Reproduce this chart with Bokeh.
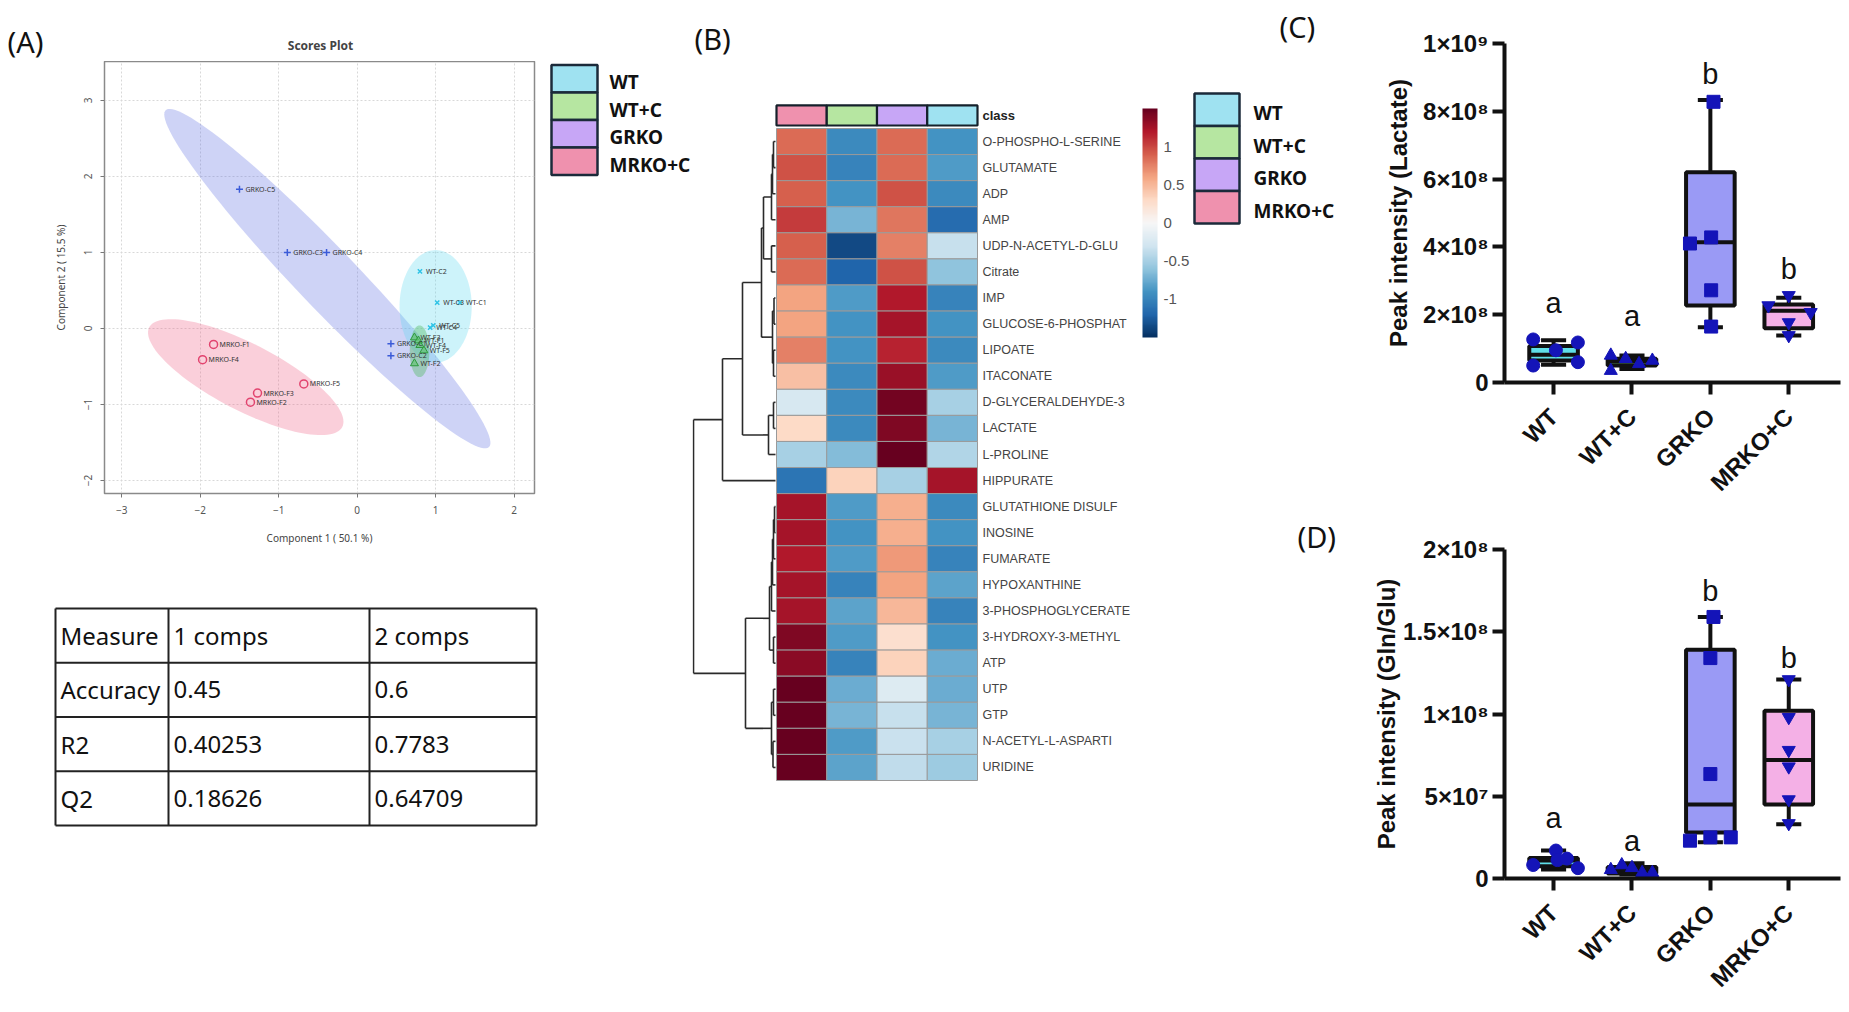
import numpy as np
from bokeh.plotting import figure
from bokeh.models import Range1d, FixedTicker, ColorBar, LinearColorMapper, ColumnDataSource
from bokeh.layouts import row, column
from bokeh.embed import file_html
from bokeh.resources import INLINE
from bokeh.core.properties import value

# ====================== DATA ======================
groups = ["WT", "WT+C", "GRKO", "MRKO+C"]
group_fill = ["#9fe2f1", "#b6e6a1", "#c7a6f6", "#ef91ae"]

# ---- (A) PLS-DA scores ----
grko_x = [-1.50, -0.89, -0.39, 0.43, 0.43]
grko_y = [1.83, 1.00, 1.00, -0.20, -0.36]
grko_lab = ["GRKO-C5", "GRKO-C3", "GRKO-C4", "GRKO-C1", "GRKO-C2"]
wt_x = [0.80, 1.02, 1.31, 0.93, 0.97]
wt_y = [0.75, 0.34, 0.34, 0.01, 0.04]
wt_lab = ["WT-C2", "WT-C3", "WT-C1", "WT-C4", "WT-C5"]
wtc_x = [0.73, 0.80, 0.85, 0.73, 0.78]
wtc_y = [-0.12, -0.22, -0.29, -0.46, -0.16]
wtc_lab = ["WT-F3", "WT-F4", "WT-F5", "WT-F2", "WT-F1"]
mrko_x = [-1.83, -1.97, -0.68, -1.27, -1.36]
mrko_y = [-0.21, -0.41, -0.73, -0.85, -0.97]
mrko_lab = ["MRKO-F1", "MRKO-F4", "MRKO-F5", "MRKO-F3", "MRKO-F2"]
# confidence ellipses: centre, semi-axis vector a, conjugate semi-axis vector b (data units)
ell_grko = [(-0.38, 0.655), (2.06, -2.215), (0.276, 0.274)]
ell_mrko = [(-1.42, -0.64), (1.23, -0.655), (0.195, 0.39)]
ell_wt = [(1.00, 0.29), (0.0, 0.74), (0.46, 0.0)]
ell_wtc = [(0.795, -0.30), (0.0, 0.34), (0.125, 0.0)]
comp1_label = "Component 1 ( 50.1 %)"
comp2_label = "Component 2 ( 15.5 %)"

# ---- table ----
table_header = ["Measure", "1 comps", "2 comps"]
table_measure = ["Accuracy", "R2", "Q2"]
table_comp1 = ["0.45", "0.40253", "0.18626"]
table_comp2 = ["0.6", "0.7783", "0.64709"]

# ---- (B) heatmap ----
hm_columns = ["MRKO+C", "WT+C", "GRKO", "WT"]
metabolites = ["O-PHOSPHO-L-SERINE", "GLUTAMATE", "ADP", "AMP", "UDP-N-ACETYL-D-GLU", "Citrate",
               "IMP", "GLUCOSE-6-PHOSPHAT", "LIPOATE", "ITACONATE", "D-GLYCERALDEHYDE-3", "LACTATE",
               "L-PROLINE", "HIPPURATE", "GLUTATHIONE DISULF", "INOSINE", "FUMARATE", "HYPOXANTHINE",
               "3-PHOSPHOGLYCERATE", "3-HYDROXY-3-METHYL", "ATP", "UTP", "GTP", "N-ACETYL-L-ASPARTI",
               "URIDINE"]
hm_values = [
    [0.85, -0.95, 0.85, -0.90],
    [0.95, -1.00, 0.85, -0.85],
    [0.90, -0.90, 0.95, -0.95],
    [1.05, -0.70, 0.80, -1.15],
    [0.90, -1.35, 0.75, -0.35],
    [0.85, -1.20, 0.95, -0.60],
    [0.60, -0.85, 1.20, -1.00],
    [0.60, -0.90, 1.25, -0.90],
    [0.75, -0.90, 1.15, -0.95],
    [0.45, -0.95, 1.30, -0.85],
    [-0.25, -0.95, 1.45, -0.50],
    [0.30, -0.95, 1.40, -0.70],
    [-0.50, -0.65, 1.55, -0.45],
    [-1.10, 0.35, -0.50, 1.25],
    [1.25, -0.85, 0.55, -0.95],
    [1.25, -0.90, 0.55, -0.90],
    [1.20, -0.85, 0.65, -1.00],
    [1.25, -1.00, 0.60, -0.80],
    [1.25, -0.80, 0.50, -1.00],
    [1.40, -0.85, 0.25, -0.90],
    [1.35, -1.00, 0.35, -0.75],
    [1.55, -0.75, -0.20, -0.75],
    [1.55, -0.70, -0.35, -0.70],
    [1.55, -0.85, -0.33, -0.50],
    [1.55, -0.80, -0.38, -0.55],
]
# hierarchical clustering of the rows: (child, child, height); leaves 0..24, merge k -> node 25+k
dendro_merges = [(0, 1, 2), (25, 2, 3), (26, 3, 4), (4, 5, 4), (27, 28, 12), (6, 7, 1.5), (8, 9, 2),
                 (30, 31, 3), (29, 32, 14), (10, 11, 2), (34, 12, 7), (33, 35, 33), (36, 13, 53),
                 (14, 15, 1), (38, 16, 2), (39, 17, 3), (40, 18, 4), (19, 20, 2), (41, 42, 6),
                 (21, 22, 2), (23, 24, 2.5), (44, 45, 4), (43, 46, 30), (37, 47, 82)]
cbar_ticks = [-1, -0.5, 0, 0.5, 1]
cbar_labels = ["-1", "-0.5", "0", "0.5", "1"]

# ---- (C) lactate ----
lac_ticks = [0, 2e8, 4e8, 6e8, 8e8, 1e9]
lac_tick_labels = ["0", "2×10⁸", "4×10⁸", "6×10⁸", "8×10⁸", "1×10⁹"]
lac_lo = [0.52e8, 0.40e8, 1.63e8, 1.39e8]
lac_q1 = [0.65e8, 0.50e8, 2.27e8, 1.60e8]
lac_med = [0.82e8, 0.62e8, 4.14e8, 2.12e8]
lac_q3 = [1.08e8, 0.70e8, 6.20e8, 2.30e8]
lac_hi = [1.25e8, 0.80e8, 8.33e8, 2.50e8]
lac_pts_dx = [[-0.26, -0.26, 0.03, 0.31, 0.31], [-0.27, -0.27, -0.08, 0.09, 0.26],
              [0.04, -0.26, 0.01, 0.01, 0.01], [0.0, -0.26, 0.28, 0.0, 0.0]]
lac_pts_y = [[1.27e8, 0.50e8, 0.95e8, 1.18e8, 0.60e8], [0.80e8, 0.35e8, 0.70e8, 0.55e8, 0.65e8],
             [8.28e8, 4.10e8, 4.28e8, 2.72e8, 1.65e8], [2.57e8, 2.27e8, 2.07e8, 1.77e8, 1.39e8]]
lac_letters = ["a", "a", "b", "b"]
lac_letter_y = [2.35e8, 1.97e8, 9.1e8, 3.35e8]

# ---- (D) Gln/Glu ----
gg_ticks = [0, 5e7, 1e8, 1.5e8, 2e8]
gg_tick_labels = ["0", "5×10⁷", "1×10⁸", "1.5×10⁸", "2×10⁸"]
gg_lo = [0.55e7, 0.25e7, 2.2e7, 3.3e7]
gg_q1 = [0.75e7, 0.30e7, 2.8e7, 4.5e7]
gg_med = [1.10e7, 0.45e7, 4.5e7, 7.2e7]
gg_q3 = [1.25e7, 0.70e7, 1.39e8, 1.02e8]
gg_hi = [1.70e7, 0.92e7, 1.59e8, 1.21e8]
gg_pts_dx = [[-0.26, 0.03, 0.05, 0.17, 0.31], [-0.27, -0.13, 0.0, 0.13, 0.26],
             [0.04, 0.0, 0.0, -0.26, 0.0, 0.26], [0.0, 0.0, 0.0, 0.0, 0.0, 0.0]]
gg_pts_y = [[0.82e7, 1.70e7, 1.12e7, 1.21e7, 0.63e7], [0.53e7, 0.82e7, 0.65e7, 0.35e7, 0.35e7],
            [1.59e8, 1.34e8, 6.35e7, 2.3e7, 2.5e7, 2.5e7], [1.21e8, 9.8e7, 7.8e7, 6.8e7, 4.8e7, 3.35e7]]
gg_letters = ["a", "a", "b", "b"]
gg_letter_y = [3.65e7, 2.3e7, 1.75e8, 1.34e8]

box_fill = ["#5fdfe8", "#7fdc7f", "#9a9af5", "#f4b0e6"]
pt_marker = ["circle", "triangle", "square", "inverted_triangle"]

# ====================== HELPERS ======================
SANS = "Noto Sans"
ARIAL = "Liberation Sans"


def canvas(w, h, x0, x1, y0, y1):
    p = figure(width=w, height=h, x_range=Range1d(x0, x1), y_range=Range1d(y1, y0),
               output_backend="svg", toolbar_location=None, min_border=0,
               x_axis_type=None, y_axis_type=None)
    p.outline_line_color = None
    return p


def interp_palette(anchors, n):
    rgb = np.array([[int(h[i:i + 2], 16) for i in (1, 3, 5)] for h in anchors], float)
    out = []
    for t in np.linspace(0, len(anchors) - 1, n):
        i = min(int(t), len(anchors) - 2)
        f = t - i
        c = rgb[i] * (1 - f) + rgb[i + 1] * f
        out.append("#%02x%02x%02x" % tuple(int(round(v)) for v in c))
    return out


def ellipse_xy(params, n=120):
    (cx, cy), (ax, ay), (bx_, by_) = params
    t = np.linspace(0, 2 * np.pi, n)
    return cx + ax * np.cos(t) + bx_ * np.sin(t), cy + ay * np.cos(t) + by_ * np.sin(t)


# ====================== (A) ======================
topA = canvas(692, 61, 0, 692, 0, 61)
topA.text(x=[7], y=[41], text=["(A)"], text_font=value(SANS), text_font_size="29px",
          text_baseline="middle", text_align="left", text_color="#111")
topA.text(x=[320], y=[45], text=["Scores Plot"], text_font=value(SANS), text_font_size="12px",
          text_font_style="bold", text_baseline="middle", text_align="center", text_color="#444")

pA = figure(width=545, height=499, x_range=Range1d(-3.22, 2.26), y_range=Range1d(-2.17, 3.51),
            output_backend="svg", toolbar_location=None, min_border_left=104, min_border_right=11,
            min_border_top=0, min_border_bottom=67)
pA.outline_line_color = "#8a8a8a"
pA.outline_line_width = 1.5
pA.xaxis.ticker = FixedTicker(ticks=[-3, -2, -1, 0, 1, 2])
pA.yaxis.ticker = FixedTicker(ticks=[-2, -1, 0, 1, 2, 3])
pA.yaxis.major_label_orientation = "vertical"
for ax in (pA.xaxis, pA.yaxis):
    ax.axis_line_color = None
    ax.major_tick_line_color = "#777"
    ax.major_tick_out = 4
    ax.major_tick_in = 0
    ax.minor_tick_line_color = None
    ax.major_label_text_font = SANS
    ax.major_label_text_font_size = "10px"
    ax.major_label_text_color = "#555"
    ax.major_label_standoff = 8
    ax.axis_label_text_font = SANS
    ax.axis_label_text_font_size = "10px"
    ax.axis_label_text_font_style = "normal"
    ax.axis_label_text_color = "#444"
pA.xaxis.axis_label = comp1_label
pA.yaxis.axis_label = comp2_label
pA.xaxis.axis_label_standoff = 14
pA.yaxis.axis_label_standoff = 14
pA.grid.grid_line_color = "#d8d8d8"
pA.grid.grid_line_dash = "2 2"

for params, col, alpha in [(ell_grko, "#5d6de0", 0.30), (ell_mrko, "#ee6a8c", 0.32),
                           (ell_wt, "#5ad8ef", 0.30), (ell_wtc, "#4fb85e", 0.40)]:
    ex, ey = ellipse_xy(params)
    pA.patch(ex, ey, fill_color=col, fill_alpha=alpha, line_color=None)

pA.scatter(grko_x, grko_y, marker="cross", size=7, line_color="#3b5bd8", line_width=1.5)
pA.scatter(wt_x, wt_y, marker="x", size=6, line_color="#2fc3e6", line_width=1.5)
pA.scatter(wtc_x, wtc_y, marker="triangle", size=8, fill_color="#5fc36d", fill_alpha=0.6,
           line_color="#2e9a3e", line_width=1)
pA.scatter(mrko_x, mrko_y, marker="circle", size=8, fill_color=None, line_color="#e2446f",
           line_width=1.5)
for xs, ys, labs in [(grko_x, grko_y, grko_lab), (wt_x, wt_y, wt_lab), (wtc_x, wtc_y, wtc_lab),
                     (mrko_x, mrko_y, mrko_lab)]:
    pA.text(x=xs, y=ys, text=labs, x_offset=6, text_font=value(SANS), text_font_size="7px",
            text_baseline="middle", text_color="#333")

legA = canvas(147, 499, 545, 692, 61, 560)
leg_top = 65
leg_h = 31.8
legA.quad(left=[551] * 4, right=[597] * 4,
          top=[leg_top + i * leg_h for i in range(4)],
          bottom=[leg_top + (i + 1) * leg_h for i in range(4)],
          fill_color=group_fill, line_color="#1b2a3a", line_width=2.5)
legA.text(x=[609] * 4, y=[leg_top + (i + 0.62) * leg_h for i in range(4)], text=groups,
          text_font=value(SANS), text_font_size="19px", text_font_style="bold",
          text_baseline="middle", text_color="#111")

# ====================== table ======================
tab = canvas(692, 444, 0, 692, 560, 1004)
tx = [55, 168, 369, 536]
ty = [608, 662.3, 716.5, 770.8, 825]
tab.segment(x0=[tx[0]] * len(ty), y0=ty, x1=[tx[-1]] * len(ty), y1=ty, line_color="#222", line_width=2)
tab.segment(x0=tx, y0=[ty[0]] * len(tx), x1=tx, y1=[ty[-1]] * len(tx), line_color="#222", line_width=2)
cells = [table_header] + [[m, a, b] for m, a, b in zip(table_measure, table_comp1, table_comp2)]
cx, cy, ct = [], [], []
for r, rowv in enumerate(cells):
    for c, txt in enumerate(rowv):
        cx.append(tx[c] + 5)
        cy.append((ty[r] + ty[r + 1]) / 2)
        ct.append(txt)
tab.text(x=cx, y=cy, text=ct, text_font=value(SANS), text_font_size="24px",
         text_baseline="middle", text_color="#111")

# ====================== (B) heatmap ======================
CELL_W = 50.25   # px per heatmap column
CELL_H = 26.08   # px per heatmap row
HM_X0, HM_Y0 = 776, 128


def bx(px):
    return (px - HM_X0) / CELL_W


def by(py):
    return (py - HM_Y0) / CELL_H


pB = figure(width=653, height=1004, x_range=Range1d(bx(692), bx(1345)), y_range=Range1d(by(1004), by(0)),
            output_backend="svg", toolbar_location=None, min_border=0, x_axis_type=None, y_axis_type=None)
pB.outline_line_color = None

rdbu = ["#053061", "#2166ac", "#4393c3", "#92c5de", "#d1e5f0", "#f7f7f7", "#fddbc7", "#f4a582",
        "#d6604d", "#b2182b", "#67001f"]
mapper = LinearColorMapper(palette=interp_palette(rdbu, 256), low=-1.5, high=1.5)

hx, hy, hv = [], [], []
for r, vals in enumerate(hm_values):
    for c, v in enumerate(vals):
        hx.append(c + 0.5)
        hy.append(r + 0.5)
        hv.append(v)
src = ColumnDataSource(dict(x=hx, y=hy, v=hv))
pB.rect(x="x", y="y", width=1, height=1, source=src, fill_color={"field": "v", "transform": mapper},
        line_color="#9a9a9a", line_width=1)

class_cols = [group_fill[groups.index(g)] for g in hm_columns]
pB.rect(x=[c + 0.5 for c in range(4)], y=[-0.5] * 4, width=1, height=0.77, fill_color=class_cols,
        line_color="#15202b", line_width=2.2)
pB.text(x=[bx(982)] * len(metabolites), y=[r + 0.5 for r in range(len(metabolites))], text=metabolites,
        text_font=value(ARIAL), text_font_size="12.5px", text_baseline="middle", text_color="#444")
pB.text(x=[bx(982)], y=[-0.5], text=["class"], text_font=value(ARIAL), text_font_size="13px",
        text_font_style="bold", text_baseline="middle", text_color="#222")

# dendrogram
node_x = {i: bx(775) for i in range(len(metabolites))}
node_y = {i: i + 0.5 for i in range(len(metabolites))}
sx0, sy0, sx1, sy1 = [], [], [], []
for k, (a, b, h) in enumerate(dendro_merges):
    nid = len(metabolites) + k
    nx = bx(775 - h)
    ny = (node_y[a] + node_y[b]) / 2
    sx0 += [nx, nx, nx]
    sy0 += [node_y[a], node_y[a], node_y[b]]
    sx1 += [nx, node_x[a], node_x[b]]
    sy1 += [node_y[b], node_y[a], node_y[b]]
    node_x[nid] = nx
    node_y[nid] = ny
pB.segment(x0=sx0, y0=sy0, x1=sx1, y1=sy1, line_color="#2a2a2a", line_width=1.6)

cb = ColorBar(color_mapper=mapper, location=(1142 - 692, 1004 - 337), width=15, height=229,
              padding=0, margin=0, ticker=FixedTicker(ticks=cbar_ticks),
              major_label_overrides={t: l for t, l in zip(cbar_ticks, cbar_labels)},
              major_tick_line_color=None, minor_tick_line_color=None, bar_line_color=None,
              border_line_color=None, background_fill_alpha=0, label_standoff=6,
              major_label_text_font=ARIAL, major_label_text_font_size="15px",
              major_label_text_color="#555")
pB.add_layout(cb)

# legend (B)
lb_top = 93
lb_h = 32.5
pB.quad(left=[bx(1194)] * 4, right=[bx(1239)] * 4,
        top=[by(lb_top + i * lb_h) for i in range(4)],
        bottom=[by(lb_top + (i + 1) * lb_h) for i in range(4)],
        fill_color=group_fill, line_color="#1b2a3a", line_width=2.5)
pB.text(x=[bx(1253)] * 4, y=[by(lb_top + (i + 0.6) * lb_h) for i in range(4)], text=groups,
        text_font=value(SANS), text_font_size="19px", text_font_style="bold",
        text_baseline="middle", text_color="#111")

# panel letters
pB.text(x=[bx(694), bx(1279), bx(1297)], y=[by(38), by(26), by(536)], text=["(B)", "(C)", "(D)"],
        text_font=value(SANS), text_font_size="29px", text_baseline="middle", text_color="#111")


# ====================== (C), (D) ======================
def box_panel(height, btop, bbottom, ymax, ticks, tick_labels, ylabel, lo, q1, med, q3, hi,
              pdx, py, letters, letter_y, label_standoff):
    p = figure(width=496, height=height, x_range=Range1d(-0.626, 3.66), y_range=Range1d(0, ymax),
               output_backend="svg", toolbar_location=None, min_border_left=159, min_border_right=1,
               min_border_top=btop, min_border_bottom=bbottom)
    p.outline_line_color = None
    p.grid.visible = False
    p.xaxis.ticker = FixedTicker(ticks=list(range(len(groups))))
    p.xaxis.major_label_overrides = {i: g for i, g in enumerate(groups)}
    p.xaxis.major_label_orientation = np.pi / 4
    p.yaxis.ticker = FixedTicker(ticks=ticks)
    p.yaxis.major_label_overrides = {t: l for t, l in zip(ticks, tick_labels)}
    for ax in (p.xaxis, p.yaxis):
        ax.axis_line_width = 4
        ax.axis_line_color = "#111"
        ax.major_tick_line_width = 4
        ax.major_tick_line_color = "#111"
        ax.major_tick_out = 12
        ax.major_tick_in = 0
        ax.minor_tick_line_color = None
        ax.major_label_text_font = ARIAL
        ax.major_label_text_font_style = "bold"
        ax.major_label_text_color = "#111"
    p.xaxis.major_label_text_font_size = "24px"
    p.yaxis.major_label_text_font_size = "24px"
    p.xaxis.major_label_standoff = 18
    p.yaxis.major_label_standoff = 4
    p.yaxis.axis_label = ylabel
    p.yaxis.axis_label_text_font = ARIAL
    p.yaxis.axis_label_text_font_size = "24px"
    p.yaxis.axis_label_text_font_style = "bold"
    p.yaxis.axis_label_text_color = "#111"
    p.yaxis.axis_label_standoff = label_standoff
    xs = list(range(len(groups)))
    p.segment(x0=xs, y0=lo, x1=xs, y1=hi, line_color="#111", line_width=4)
    p.segment(x0=[x - 0.16 for x in xs], y0=hi, x1=[x + 0.16 for x in xs], y1=hi, line_color="#111", line_width=4)
    p.segment(x0=[x - 0.16 for x in xs], y0=lo, x1=[x + 0.16 for x in xs], y1=lo, line_color="#111", line_width=4)
    p.vbar(x=xs, bottom=q1, top=q3, width=0.62, fill_color=box_fill, line_color="#111", line_width=4)
    p.segment(x0=[x - 0.31 for x in xs], y0=med, x1=[x + 0.31 for x in xs], y1=med, line_color="#111", line_width=4)
    for i in xs:
        p.scatter(x=[i + d for d in pdx[i]], y=py[i], marker=pt_marker[i], size=13,
                  fill_color="#1414b8", line_color="#1414b8")
    p.text(x=xs, y=letter_y, text=letters, text_font=value(ARIAL), text_font_size="29px",
           text_align="center", text_baseline="middle", text_color="#111")
    return p


pC = box_panel(510, 43, 128, 1e9, lac_ticks, lac_tick_labels, "Peak intensity (Lactate)",
               lac_lo, lac_q1, lac_med, lac_q3, lac_hi, lac_pts_dx, lac_pts_y, lac_letters, lac_letter_y, 8)
pD = box_panel(494, 39, 115, 2e8, gg_ticks, gg_tick_labels, "Peak intensity (Gln/Glu)",
               gg_lo, gg_q1, gg_med, gg_q3, gg_hi, gg_pts_dx, gg_pts_y, gg_letters, gg_letter_y, 0)

layout = row(
    column(topA, row(pA, legA), tab),
    pB,
    column(pC, pD),
)

open("out.html", "w").write(file_html(layout, INLINE))
